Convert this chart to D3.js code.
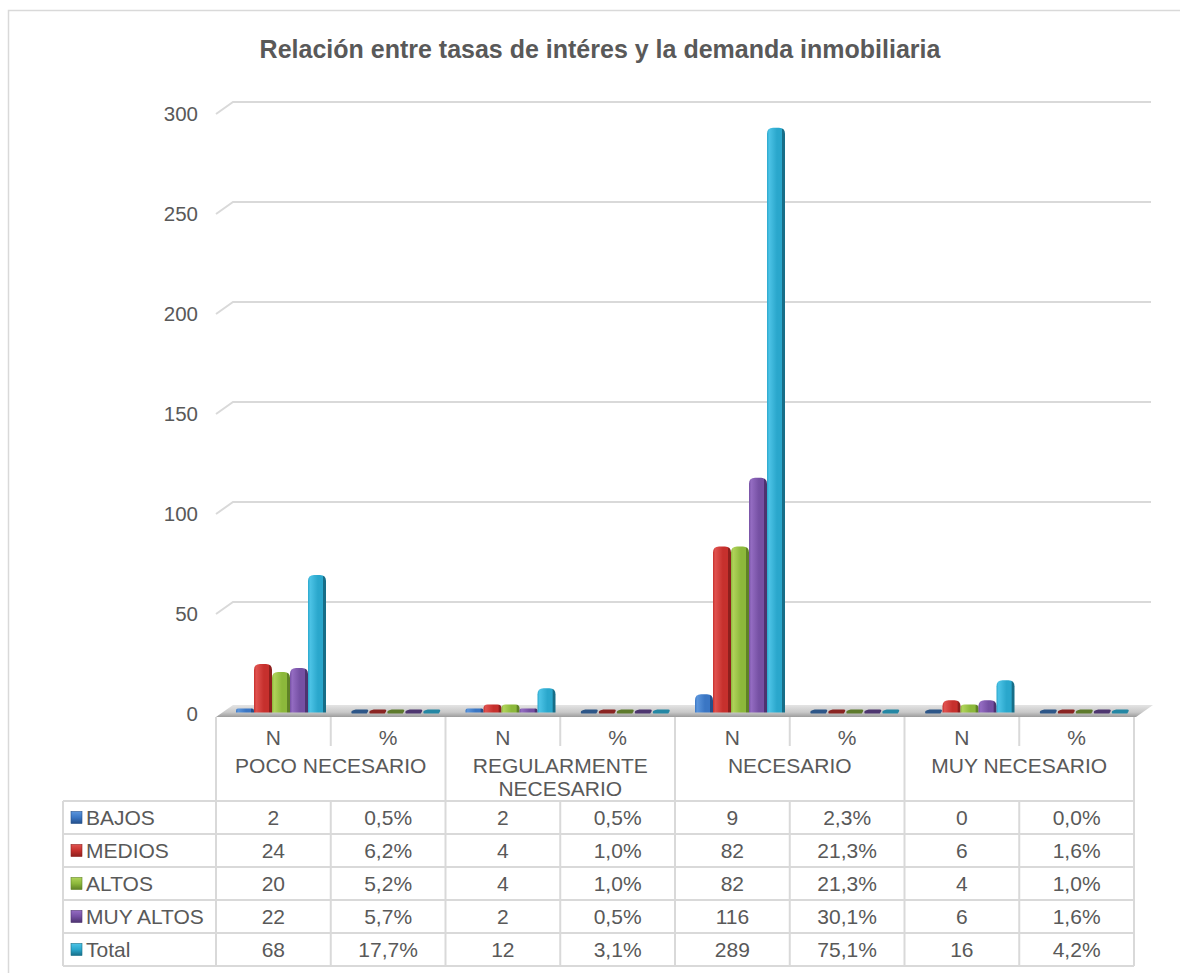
<!DOCTYPE html>
<html>
<head>
<meta charset="utf-8">
<script src="https://cdn.jsdelivr.net/npm/d3@7"></script>
<style>
  html, body { margin: 0; padding: 0; background: #ffffff; }
  svg { display: block; font-family: "Liberation Sans", Arial, sans-serif; }
</style>
</head>
<body>
<svg id="chart" width="1180" height="973"></svg>
<script>
// ---- data ----
const groups = ["POCO NECESARIO", "REGULARMENTE NECESARIO", "NECESARIO", "MUY NECESARIO"];
const measures = ["N", "%"];
const seriesNames = ["BAJOS", "MEDIOS", "ALTOS", "MUY ALTOS", "Total"];
// each series: N, share for every group in order
const bajos    = [2, 0.005, 2, 0.005, 9, 0.023, 0, 0.000];
const medios   = [24, 0.062, 4, 0.010, 82, 0.213, 6, 0.016];
const altos    = [20, 0.052, 4, 0.010, 82, 0.213, 4, 0.010];
const muyAltos = [22, 0.057, 2, 0.005, 116, 0.301, 6, 0.016];
const total    = [68, 0.177, 12, 0.031, 289, 0.751, 16, 0.042];
const yTicks = [0, 50, 100, 150, 200, 250, 300];

const seriesValues = [bajos, medios, altos, muyAltos, total];
const colors = [
  { light: "#5b95dc", base: "#3a76c4", dark: "#244f8a", flat: "#2d5688" },
  { light: "#e0524f", base: "#c6302d", dark: "#8e1f1d", flat: "#8a2422" },
  { light: "#b0d35a", base: "#8cb83b", dark: "#5f8226", flat: "#5d7a2c" },
  { light: "#946cc2", base: "#7550a3", dark: "#4d336f", flat: "#4e3670" },
  { light: "#4cc3e6", base: "#2aa7cc", dark: "#176e88", flat: "#2487a4" }
];

const columns = [];
groups.forEach(g => measures.forEach(m => columns.push(g + "|" + m)));

const pct = d3.formatLocale({ decimal: ",", thousands: ".", grouping: [3], currency: ["", ""] }).format(".1%");
const fmt = (v, i) => (i % 2 === 0 ? String(v) : pct(v));

// ---- layout ----
const svg = d3.select("#chart");
const textColor = "#595959";
const lineColor = "#d9d9d9";

const tableLeft = 216, tableRight = 1134;
const legendLeft = 63;
const depthX = 17, depthY = -12;

const x = d3.scaleBand().domain(columns).range([tableLeft, tableRight]);
const yAxis = d3.scaleLinear().domain([0, 300]).range([714, 114]);
const yBar = d3.scaleLinear().domain([0, 300]).range([715.5, 108.6]);

// chart border
svg.append("rect").attr("x", 8.5).attr("y", 10.5).attr("width", 1200).attr("height", 1000)
  .attr("fill", "none").attr("stroke", lineColor).attr("stroke-width", 1.5);

// title
svg.append("text").attr("x", 600).attr("y", 58).attr("text-anchor", "middle")
  .attr("font-size", 25).attr("font-weight", "bold").attr("fill", textColor)
  .text("Relación entre tasas de intéres y la demanda inmobiliaria");

// gradients
const defs = svg.append("defs");
colors.forEach((c, i) => {
  const g = defs.append("linearGradient").attr("id", "bar" + i)
    .attr("x1", "0").attr("x2", "1").attr("y1", "0").attr("y2", "0");
  g.append("stop").attr("offset", "0").attr("stop-color", c.base);
  g.append("stop").attr("offset", "0.12").attr("stop-color", c.light);
  g.append("stop").attr("offset", "0.55").attr("stop-color", c.base);
  g.append("stop").attr("offset", "0.82").attr("stop-color", c.base);
  g.append("stop").attr("offset", "0.86").attr("stop-color", c.dark);
  g.append("stop").attr("offset", "1").attr("stop-color", c.dark);
  const k = defs.append("linearGradient").attr("id", "key" + i)
    .attr("x1", "0").attr("x2", "0").attr("y1", "0").attr("y2", "1");
  k.append("stop").attr("offset", "0").attr("stop-color", c.light);
  k.append("stop").attr("offset", "0.5").attr("stop-color", c.base);
  k.append("stop").attr("offset", "1").attr("stop-color", c.dark);
});
const floorGrad = defs.append("linearGradient").attr("id", "floor")
  .attr("x1", "0").attr("x2", "0").attr("y1", "0").attr("y2", "1");
floorGrad.append("stop").attr("offset", "0").attr("stop-color", "#e4e4e4");
floorGrad.append("stop").attr("offset", "0.6").attr("stop-color", "#c8c8c8");
floorGrad.append("stop").attr("offset", "1").attr("stop-color", "#9c9c9c");

// gridlines on the back wall with the bent side edge
const grid = svg.append("g");
yTicks.filter(t => t > 0).forEach(t => {
  const yf = yAxis(t);
  grid.append("path")
    .attr("d", `M${tableLeft},${yf} L${tableLeft + depthX},${yf + depthY} H${tableRight + depthX}`)
    .attr("fill", "none").attr("stroke", lineColor).attr("stroke-width", 2);
});

// axis labels
svg.append("g").selectAll("text").data(yTicks).join("text")
  .attr("x", 198).attr("y", d => yAxis(d)).attr("dy", "0.36em")
  .attr("text-anchor", "end").attr("font-size", 20.5).attr("fill", textColor)
  .text(d => d);

// floor
const f0 = yAxis(0) + 3;
svg.append("path")
  .attr("d", `M${tableLeft},${f0} L${tableRight + 2},${f0} L${tableRight + depthX + 2},${f0 + depthY} L${tableLeft + depthX},${f0 + depthY} Z`)
  .attr("fill", "url(#floor)");

// bars
const inner = d3.scaleBand().domain(d3.range(seriesNames.length)).range([20, 110]);
const barsG = svg.append("g");
const barRows = [];
columns.forEach((col, ci) => {
  seriesValues.forEach((vals, si) => barRows.push({ col, ci, si, v: vals[ci] }));
});
const base = yBar(0) - 3;
const barHeight = d => base - (yBar(d.v) - 3);
barsG.selectAll("path").data(barRows).join("path")
  .attr("d", d => {
    const x0 = x(d.col) + inner(d.si);
    const x1 = x0 + inner.bandwidth();
    const h = barHeight(d);
    if (h < 3) {
      // nearly empty bars: a flat cap lying on the floor
      const yc = base - 1;
      return `M${x0 + 1},${yc + 2} Q${x0 - 1},${yc - 1} ${x0 + 5},${yc - 2} H${x1 - 2} Q${x1 + 1},${yc - 2} ${x1 - 2},${yc + 2} Z`;
    }
    const top = base - h;
    const r = Math.min(6, h / 2);
    return `M${x0},${base} V${top + r} Q${x0},${top} ${x0 + r},${top} H${x1 - r} Q${x1},${top} ${x1},${top + r} V${base} Z`;
  })
  .attr("fill", d => (barHeight(d) < 3 ? colors[d.si].flat : `url(#bar${d.si})`));

// data table
const table = svg.append("g");
const headTop = 717, rowTop = 801, rowH = 33;
const tableBottom = rowTop + rowH * seriesNames.length;
const line = (x1, y1, x2, y2) => table.append("line")
  .attr("x1", x1).attr("y1", y1).attr("x2", x2).attr("y2", y2)
  .attr("stroke", lineColor).attr("stroke-width", 2);

// header frame
line(tableLeft, headTop, tableLeft, tableBottom);
line(tableRight, headTop, tableRight, tableBottom);
line(legendLeft, rowTop, legendLeft, tableBottom);
groups.forEach((g, gi) => {
  const gx = x(g + "|N");
  if (gi > 0) line(gx, headTop, gx, tableBottom);
  const mx = x(g + "|%");
  line(mx, headTop, mx, headTop + 29);
  line(mx, rowTop, mx, tableBottom);
});
d3.range(seriesNames.length + 1).forEach(r => {
  line(legendLeft, rowTop + r * rowH, tableRight, rowTop + r * rowH);
});

const fontSize = 21;
// N / % header
table.selectAll("text.m").data(columns).join("text").attr("class", "m")
  .attr("x", d => x(d) + x.bandwidth() / 2).attr("y", 737).attr("dy", "0.36em")
  .attr("text-anchor", "middle").attr("font-size", fontSize).attr("fill", textColor)
  .text(d => d.split("|")[1]);

// group labels, wrapped to the group width
groups.forEach(g => {
  const gx = x(g + "|N");
  const w = x.bandwidth() * 2 - 16;
  const t = table.append("text").attr("text-anchor", "middle").attr("font-size", fontSize).attr("fill", textColor);
  const words = g.split(" ");
  let lines = [[]];
  words.forEach(wd => {
    const cur = lines[lines.length - 1];
    const test = cur.concat(wd).join(" ");
    t.text(test);
    if (t.node().getComputedTextLength() > w && cur.length) lines.push([wd]);
    else cur.push(wd);
  });
  t.text(null);
  lines.forEach((ln, li) => {
    t.append("tspan").attr("x", gx + x.bandwidth()).attr("y", 765 + li * 23).attr("dy", "0.36em").text(ln.join(" "));
  });
});

// rows
seriesNames.forEach((name, si) => {
  const yc = rowTop + si * rowH + rowH / 2;
  table.append("rect").attr("x", 71).attr("y", yc - 6).attr("width", 11).attr("height", 12)
    .attr("fill", `url(#key${si})`).attr("stroke", colors[si].dark).attr("stroke-width", 0.6);
  table.append("text").attr("x", 86).attr("y", yc).attr("dy", "0.36em")
    .attr("font-size", fontSize).attr("fill", textColor).text(name);
  table.selectAll(null).data(seriesValues[si]).join("text")
    .attr("x", (d, i) => x(columns[i]) + x.bandwidth() / 2).attr("y", yc).attr("dy", "0.36em")
    .attr("text-anchor", "middle").attr("font-size", fontSize).attr("fill", textColor)
    .text((d, i) => fmt(d, i));
});
</script>
</body>
</html>
